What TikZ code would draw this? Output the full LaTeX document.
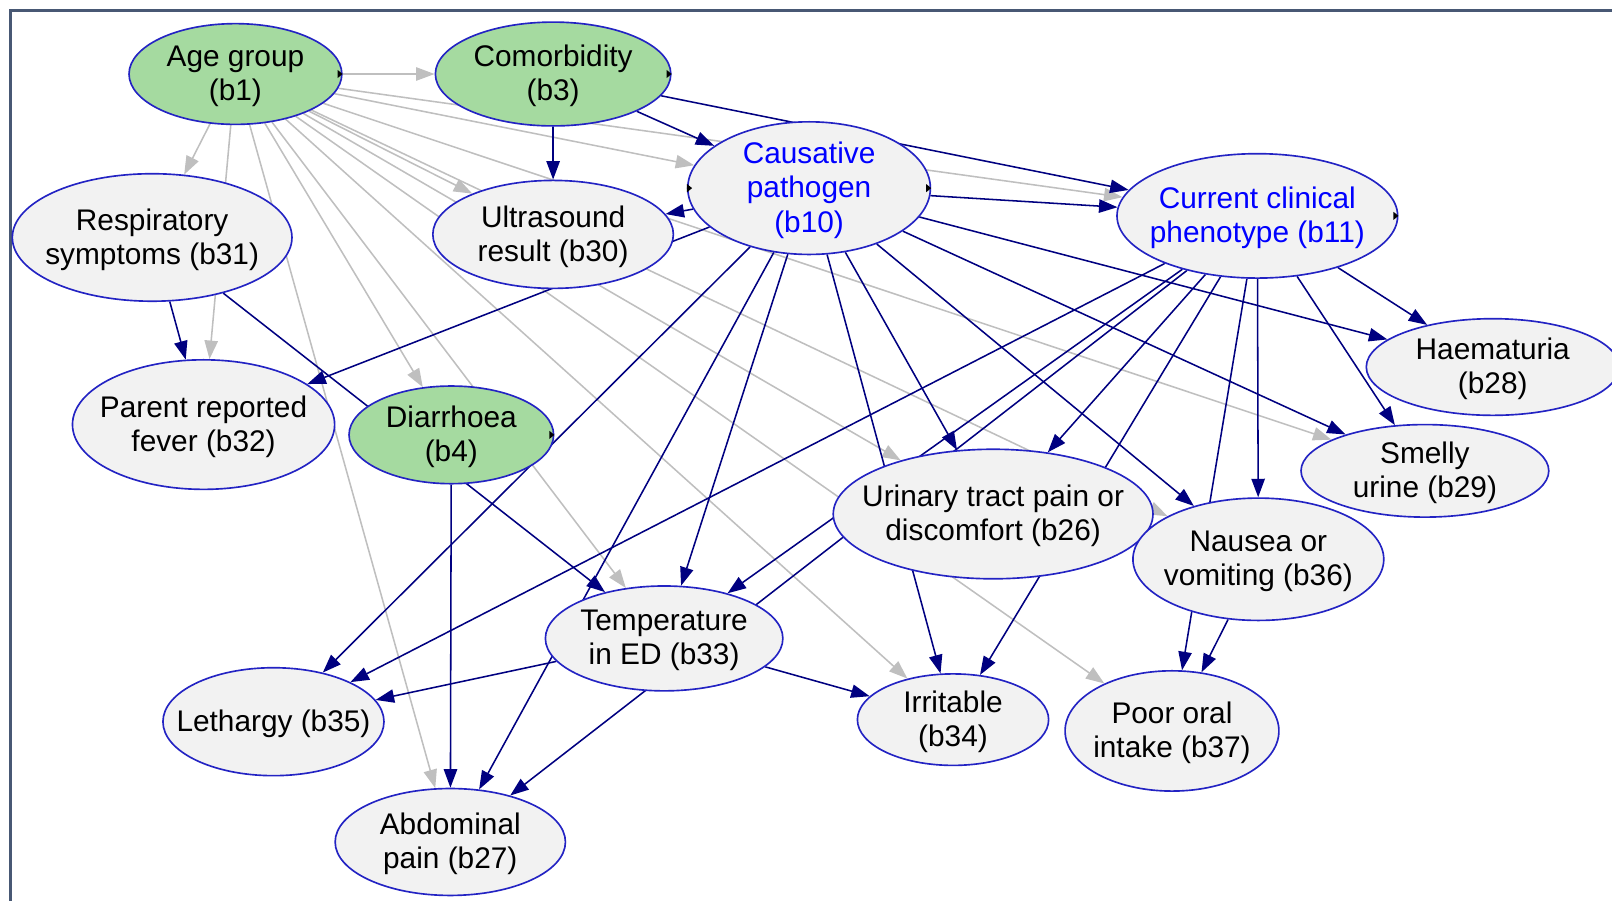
\documentclass[tikz,border=0pt]{standalone}
\usepackage{fontspec}
\setmainfont{Liberation Sans}
\usepackage{tikz}
\usetikzlibrary{shapes.geometric, backgrounds, arrows.meta}
\definecolor{light}{RGB}{242, 242, 242}
\definecolor{leaf}{RGB}{165, 218, 160}
\definecolor{rim}{RGB}{35, 35, 195}
\definecolor{dark}{RGB}{0, 0, 128}
\definecolor{gray75}{gray}{0.75}
\definecolor{border}{RGB}{72, 88, 116}
\newcommand{\pointer}[1]{\fill #1 ++(-5, -4) -- ++(5, 4) -- ++(-5, 4) -- cycle;}

\begin{document}
\begin{tikzpicture}[x=0.5pt, y=-0.5pt,
  var/.style={ellipse, draw=rim, fill=light, line width=0.8pt, inner sep=0pt},
  root/.style={var, fill=leaf},
  box/.style 2 args={minimum width=#1*0.5pt, minimum height=#2*0.5pt},
  lab/.style={align=center, yshift=-1pt, font=\fontsize{14.5}{16.6}\selectfont},
  key/.style={lab, text=blue},
  arc/.style={draw=dark, line width=0.75pt, -{Triangle[length=9pt, width=6.5pt]}},
  pale/.style={arc, draw=gray75}]
  \useasboundingbox (0, 0) rectangle (1568, 876);

  \node[root, box={207}{98}, label={[lab]center:Age group\\(b1)}] (b1) at (229, 72) {};
  \node[root, box={229}{101}, label={[lab]center:Comorbidity\\(b3)}] (b3) at (538, 72) {};
  \node[var, box={236}{129}, label={[key]center:Causative\\pathogen\\(b10)}] (b10) at (787, 183) {};
  \node[var, box={273}{121}, label={[key]center:Current clinical\\phenotype (b11)}] (b11) at (1223, 210) {};
  \node[var, box={272}{124}, label={[lab]center:Respiratory\\symptoms (b31)}] (b31) at (148, 231) {};
  \node[var, box={234}{105}, label={[lab]center:Ultrasound\\result (b30)}] (b30) at (538, 228) {};
  \node[var, box={246}{94}, label={[lab]center:Haematuria\\(b28)}] (b28) at (1452, 357) {};
  \node[var, box={255}{126}, label={[lab]center:Parent reported\\fever (b32)}] (b32) at (198, 413) {};
  \node[root, box={199}{95}, label={[lab]center:Diarrhoea\\(b4)}] (b4) at (439, 423) {};
  \node[var, box={241}{90}, label={[lab]center:Smelly\\urine (b29)}] (b29) at (1386, 458) {};
  \node[var, box={311}{126}, label={[lab]center:Urinary tract pain or\\discomfort (b26)}] (b26) at (966, 500) {};
  \node[var, box={244}{119}, label={[lab]center:Nausea or\\vomiting (b36)}] (b36) at (1224, 544) {};
  \node[var, box={231}{102}, label={[lab]center:Temperature\\in ED (b33)}] (b33) at (646, 621) {};
  \node[var, box={215}{105}, label={[lab]center:Lethargy (b35)}] (b35) at (266, 702) {};
  \node[var, box={186}{89}, label={[lab]center:Irritable\\(b34)}] (b34) at (927, 700) {};
  \node[var, box={208}{117}, label={[lab]center:Poor oral\\intake (b37)}] (b37) at (1140, 711) {};
  \node[var, box={224}{104}, label={[lab]center:Abdominal\\pain (b27)}] (b27) at (438, 819) {};

  \pointer{(b1.east)}
  \pointer{(b3.east)}
  \pointer{(b4.east)}
  \pointer{(b10.east)}
  \pointer{([xshift=2.5pt]b10.west)}
  \pointer{(b11.east)}

  \begin{scope}[on background layer]
    \draw[border, line width=1.2pt] (10, 876) -- (10, 10) -- (1568, 10);

    % age group to everything
    \draw[pale] (b1) -- (b3);
    \draw[pale] (b1) -- (b31);
    \draw[pale] (b1) -- (b32);
    \draw[pale] (b1) -- (b4);
    \draw[pale] (b1) -- (b30);
    \draw[pale] (b1) -- (b10);
    \draw[pale] (b1) -- (b11);
    \draw[pale] (b1) -- (b26);
    \draw[pale] (b1) -- (b33);
    \draw[pale] (b1) -- (b34);
    \draw[pale] (b1) -- (b27);
    \draw[pale] (b1) -- (b37);
    \draw[pale] (b1) -- (b36);
    \draw[pale] (b1) -- (b29);

    \draw[arc] (b3) -- (b30);
    \draw[arc] (b3) -- (b10);
    \draw[arc] (b3) -- (b11);

    \draw[arc] (b10) -- (b30);
    \draw[arc] (b10) -- (b11);
    \draw[arc] (b10) -- (b32);
    \draw[arc] (b10) -- (b28);
    \draw[arc] (b10) -- (b29);
    \draw[arc] (b10) -- (b36);
    \draw[arc] (b10) -- (b26);
    \draw[arc] (b10) -- (b34);
    \draw[arc] (b10) -- (b33);
    \draw[arc] (b10) -- (b27);
    \draw[arc] (b10) -- (b35);

    \draw[arc] (b11) -- (b28);
    \draw[arc] (b11) -- (b29);
    \draw[arc] (b11) -- (b36);
    \draw[arc] (b11) -- (b37);
    \draw[arc] (b11) -- (b26);
    \draw[arc] (b11) -- (b34);
    \draw[arc] (b11) -- (b33);
    \draw[arc] (b11) -- (b27);
    \draw[arc] (b11) -- (b35);

    \draw[arc] (b31) -- (b32);
    \draw[arc] (b31) -- (b33);
    \draw[arc] (b4) -- (b27);
    \draw[arc] (b33) -- (b35);
    \draw[arc] (b33) -- (b34);
    \draw[arc] (b36) -- (b37);
  \end{scope}
\end{tikzpicture}
\end{document}
